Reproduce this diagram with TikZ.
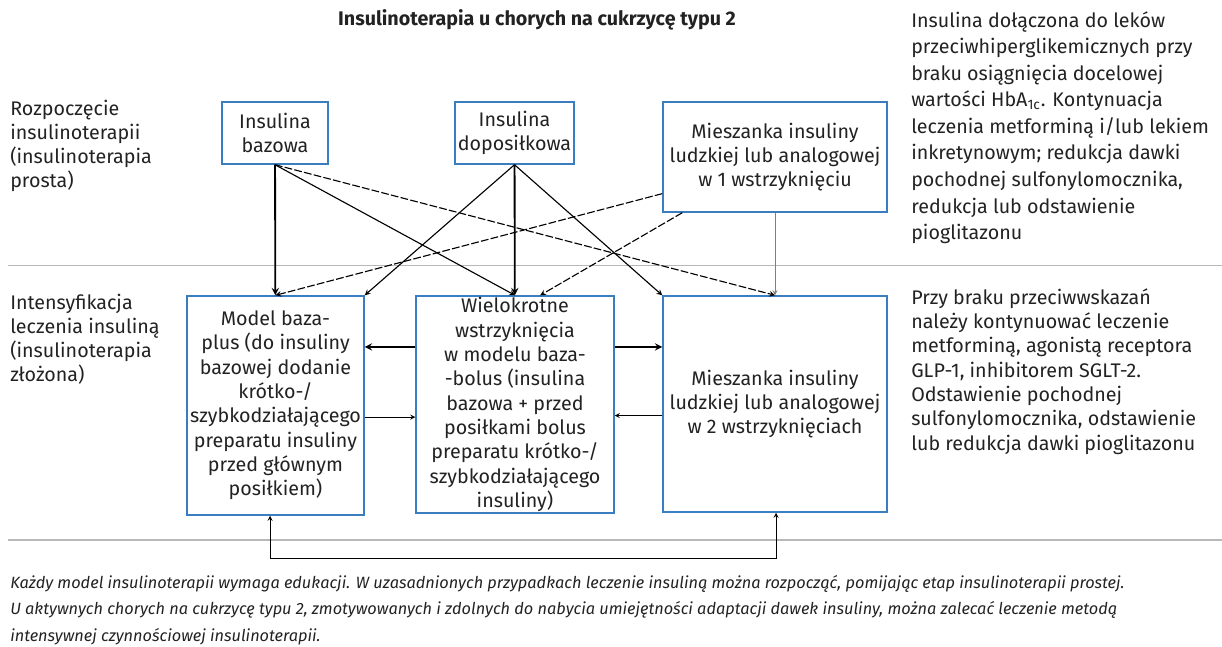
\documentclass[tikz,border=0pt]{standalone}
\usepackage{fontspec}
\setmainfont{Fira Sans}
\usepackage{tikz}
\tikzset{therapy/.style={rectangle, draw=boxblue, line width=1pt, fill=white, align=center, inner sep=0pt, text=boxtext, font=\fontsize{14}{17.3}\selectfont}}
\tikzset{sidenote/.style={anchor=north west, align=left, inner sep=0pt, text=boxtext}}
\tikzset{strong/.style={-stealth, line width=1.3pt}, weak/.style={-stealth, line width=0.6pt}, cross/.style={-stealth, line width=0.8pt}, longdash/.style={dash pattern=on 5.5pt off 1.6pt}}
\usetikzlibrary{arrows,shapes}
\newcommand{\therapybox}[4]{node[therapy, minimum width=#3, minimum height=#4](#1) {#2}}
\definecolor{boxblue}{HTML}{3A7DC0}
\definecolor{boxtext}{HTML}{222222}
\definecolor{rulegray}{HTML}{B8B8B8}

\begin{document}
\begin{tikzpicture}[x=0.025cm, y=-0.025cm]
\useasboundingbox (0,0) rectangle (1222,646);
\draw (537,25) node[anchor=base, font=\fontsize{14}{17}\selectfont\bfseries, text=boxtext](title) {Insulinoterapia u chorych na cukrzycę typu 2} ;
\draw[rulegray, line width=0.7pt] (8,265) -- (1222,265) ;
\draw[rulegray, line width=2pt] (8,540) -- (1222,540) ;
\draw (10,100) node[sidenote, font=\fontsize{14}{17}\selectfont](start) {Rozpoczęcie\\insulinoterapii\\(insulinoterapia\\prosta)} ;
\draw (10,294) node[sidenote, font=\fontsize{14}{17}\selectfont](intens) {Intensyfikacja\\leczenia insuliną\\(insulinoterapia\\złożona)} ;
\draw (911,11) node[sidenote, font=\fontsize{14}{18.9}\selectfont](addnote) {Insulina dołączona do leków\\przeciwhiperglikemicznych przy\\braku osiągnięcia docelowej\\wartości HbA\textsubscript{1c}. Kontynuacja\\leczenia metforminą i/lub lekiem\\inkretynowym; redukcja dawki\\pochodnej sulfonylomocznika,\\redukcja lub odstawienie\\pioglitazonu} ;
\draw (911,288) node[sidenote, font=\fontsize{14}{17.3}\selectfont](contranote) {Przy braku przeciwwskazań\\należy kontynuować leczenie\\metforminą, agonistą receptora\\GLP-1, inhibitorem SGLT-2.\\Odstawienie pochodnej\\sulfonylomocznika, odstawienie\\lub redukcja dawki pioglitazonu} ;
\draw (10,575) node[sidenote, font=\fontsize{11.6}{18.8}\selectfont\itshape](footnote) {Każdy model insulinoterapii wymaga edukacji. W uzasadnionych przypadkach leczenie insuliną można rozpocząć, pomijając etap insulinoterapii prostej.\\U aktywnych chorych na cukrzycę typu 2, zmotywowanych i zdolnych do nabycia umiejętności adaptacji dawek insuliny, można zalecać leczenie metodą\\intensywnej czynnościowej insulinoterapii.} ;
\draw (275,133) \therapybox{basal}{Insulina\\bazowa}{2.65cm}{1.55cm} ;
\draw (514.5,133) \therapybox{prandial}{Insulina\\doposiłkowa}{2.975cm}{1.55cm} ;
\draw (775,157) \therapybox{mixone}{Mieszanka insuliny\\ludzkiej lub analogowej\\w 1 wstrzyknięciu}{5.6cm}{2.75cm} ;
\draw (275.5,405.5) \therapybox{basalplus}{Model baza-\\plus (do insuliny\\bazowej dodanie\\krótko-/\\szybkodziałającego\\preparatu insuliny\\przed głównym\\posiłkiem)}{4.425cm}{5.475cm} ;
\draw (515,404.5) \therapybox{bolus}{Wielokrotne\\wstrzyknięcia\\w modelu baza-\\-bolus (insulina\\bazowa + przed\\posiłkami bolus\\preparatu krótko-/\\szybkodziałającego\\insuliny)}{4.95cm}{5.425cm} ;
\draw (775,404) \therapybox{mixtwo}{Mieszanka insuliny\\ludzkiej lub analogowej\\w 2 wstrzyknięciach}{5.6cm}{5.4cm} ;
\draw[strong] (basal) -- (basalplus) ;
\draw[strong] (prandial) -- (bolus) ;
\draw[cross] (basal.south) -- (bolus.north) ;
\draw[cross, longdash] (basal.south) -- (mixtwo.north) ;
\draw[cross] (prandial.south) -- (basalplus.north east) ;
\draw[cross] (prandial.south) -- (mixtwo.north west) ;
\draw[cross, longdash] (mixone.198) -- (basalplus.north) ;
\draw[cross, longdash] (mixone.211) -- (bolus.77) ;
\draw[weak, draw=gray] (mixone) -- (mixtwo) ;
\draw[strong] ([yshift=1.44cm]bolus.west) -- ([yshift=1.44cm]bolus.west -| basalplus.east) ;
\draw[strong] ([yshift=1.44cm]bolus.east) -- ([yshift=1.44cm]bolus.east -| mixtwo.west) ;
\draw[weak] ([yshift=-0.29cm]basalplus.east) -- ([yshift=-0.29cm]basalplus.east -| bolus.west) ;
\draw[weak] ([yshift=-0.29cm]mixtwo.west) -- ([yshift=-0.29cm]mixtwo.west -| bolus.east) ;
\coordinate (bracketl) at (270,558) ;
\coordinate (bracketr) at (776,558) ;
\draw[weak, stealth-stealth] (bracketl |- basalplus.south) -- (bracketl) -- (bracketr) -- (bracketr |- mixtwo.south) ;
\end{tikzpicture}
\end{document}
